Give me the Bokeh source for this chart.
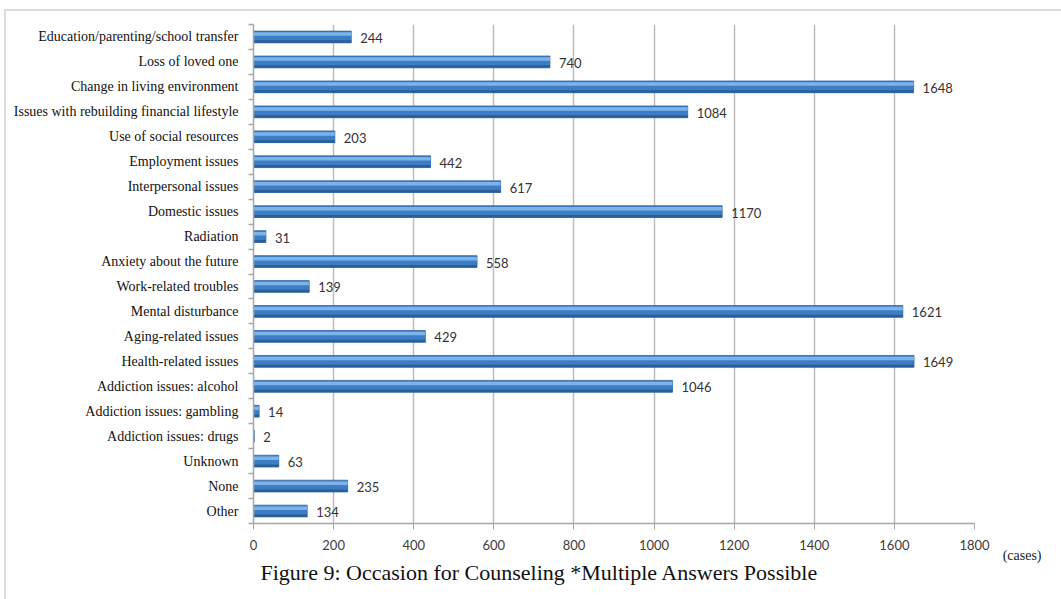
from bokeh.plotting import figure
from bokeh.models import Range1d, FixedTicker, ColumnDataSource, Title
from bokeh.core.properties import value
from bokeh.embed import file_html
from bokeh.resources import INLINE

categories = [
    "Education/parenting/school transfer",
    "Loss of loved one",
    "Change in living environment",
    "Issues with rebuilding financial lifestyle",
    "Use of social resources",
    "Employment issues",
    "Interpersonal issues",
    "Domestic issues",
    "Radiation",
    "Anxiety about the future",
    "Work-related troubles",
    "Mental disturbance",
    "Aging-related issues",
    "Health-related issues",
    "Addiction issues: alcohol",
    "Addiction issues: gambling",
    "Addiction issues: drugs",
    "Unknown",
    "None",
    "Other",
]
counts = [244, 740, 1648, 1084, 203, 442, 617, 1170, 31, 558,
          139, 1621, 429, 1649, 1046, 14, 2, 63, 235, 134]
x_ticks = [0, 200, 400, 600, 800, 1000, 1200, 1400, 1600, 1800]
caption = "Figure 9: Occasion for Counseling *Multiple Answers Possible"
unit_label = "(cases)"

n = len(categories)
ypos = [n - 0.5 - i for i in range(n)]
src = ColumnDataSource(dict(y=ypos, v=counts, lab=[str(c) for c in counts],
                            cat=categories))

p = figure(width=1061, height=599, output_backend="svg", toolbar_location=None,
           x_range=Range1d(0, 1800), y_range=Range1d(0, n),
           min_border_left=253, min_border_right=87, min_border_top=24,
           min_border_bottom=76)
p.outline_line_color = None
p.background_fill_color = "white"
p.border_fill_alpha = 0
p.styles = {
    "background": "linear-gradient(#dcdcdc,#dcdcdc) 4px 9px / 2px 100% no-repeat, "
                  "linear-gradient(#dcdcdc,#dcdcdc) 4px 9px / 100% 2px no-repeat, white"
}

# gridlines
p.xgrid.ticker = FixedTicker(ticks=x_ticks)
p.xgrid.grid_line_color = "#bdbdbd"
p.xgrid.grid_line_width = 1.5
p.ygrid.grid_line_color = None

# bars: base, shadow bottom, highlight top
bh = 0.47
p.hbar(y="y", right="v", left=0, height=bh, source=src,
       fill_color="#3c7ec5", line_color="#2f649e", line_width=0.8)
p.hbar(y=[y - bh / 2 + 0.05 for y in ypos], right=counts, left=0, height=0.1,
       fill_color="#2b5d97", line_color=None)
p.hbar(y=[y + bh / 2 - 0.12 for y in ypos], right=counts, left=0, height=0.14,
       fill_color="#7db3e8", line_color=None)

# value labels
p.text(x="v", y="y", text="lab", source=src, x_offset=9, y_offset=1,
       text_font=value("Lato"), text_font_size="13px", text_color="#333333",
       text_baseline="middle", text_align="left")

# x axis
xa = p.xaxis[0]
xa.ticker = FixedTicker(ticks=x_ticks, minor_ticks=[])
xa.axis_line_color = "#a6a6a6"
xa.axis_line_width = 1.5
xa.major_tick_line_color = "#a6a6a6"
xa.major_tick_out = 6
xa.major_tick_in = 0
xa.minor_tick_line_color = None
xa.major_label_text_font = "Lato"
xa.major_label_text_font_size = "13px"
xa.major_label_text_color = "#404040"
xa.major_label_standoff = 10

# y axis: labels at centers, tick marks at boundaries
ya = p.yaxis[0]
ya.ticker = FixedTicker(ticks=ypos, minor_ticks=list(range(n + 1)))
ya.major_label_overrides = {y: c for y, c in zip(ypos, categories)}
ya.axis_line_color = "#a6a6a6"
ya.axis_line_width = 1.5
ya.major_tick_out = 0
ya.major_tick_in = 0
ya.minor_tick_out = 5
ya.minor_tick_in = 0
ya.minor_tick_line_color = "#a6a6a6"
ya.minor_tick_line_width = 1.5
ya.major_label_text_font = "Liberation Serif"
ya.major_label_text_font_size = "14px"
ya.major_label_text_color = "#111111"
ya.major_label_standoff = 10

# unit label (sits in the tick-label row, right of the axis end)
p.add_layout(Title(text=unit_label, align="right", offset=-67, standoff=-21,
                   text_font="Liberation Serif", text_font_size="14px",
                   text_font_style="normal", text_color="#222222"), "below")
# caption
p.add_layout(Title(text=caption, align="left", offset=7, standoff=11,
                   text_font="Liberation Serif", text_font_size="22px",
                   text_font_style="normal", text_color="#111111"), "below")

open("out.html", "w").write(file_html(p, INLINE))
